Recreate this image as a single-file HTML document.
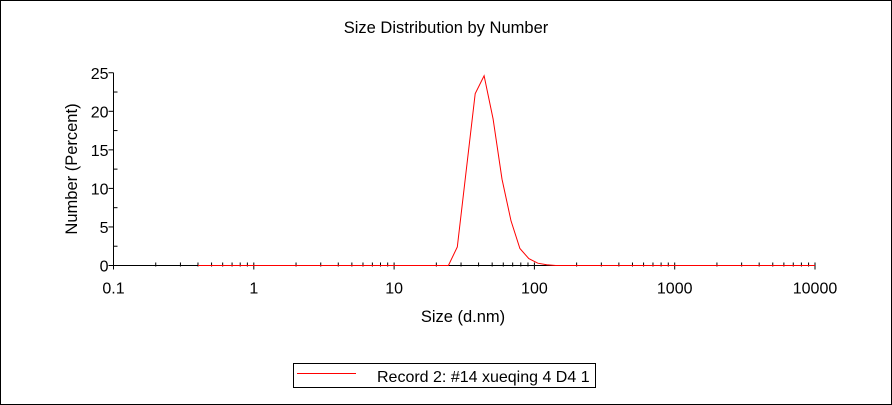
<!DOCTYPE html>
<html><head><meta charset="utf-8"><style>
html,body{margin:0;padding:0;background:#fff}
svg{display:block;font-family:"Liberation Sans",Arial,sans-serif}
</style></head><body>
<svg id="chart" width="892" height="405" viewBox="0 0 892 405">
<rect x="0.5" y="0.5" width="891" height="404" fill="#fff" stroke="#000"/>
<text x="446" y="33" text-anchor="middle" font-size="16.5">Size Distribution by Number</text>
<text x="463" y="322" text-anchor="middle" font-size="16.5">Size (d.nm)</text>
<text transform="translate(77,169) rotate(-90)" text-anchor="middle" font-size="16.5">Number (Percent)</text>
<g id="axes"></g>
<g id="series"></g>
<g>
<rect x="293.5" y="363.5" width="302" height="24" fill="#fff" stroke="#000"/>
<line x1="297" y1="373.5" x2="356" y2="373.5" stroke="#f00"/>
<text x="377" y="382" font-size="16">Record 2: #14 xueqing 4 D4 1</text>
</g>
</svg>
<script>
const sizes=[0.4,24.36,28.21,32.67,37.84,43.82,50.75,58.77,68.06,78.82,91.28,105.7,122.4,141.8,10000];
const values=[0,0,2.4,12.3,22.3,24.6,19.0,11.2,5.8,2.2,0.9,0.3,0.1,0,0];
const xTicks=[0.1,1,10,100,1000,10000];
const xTickLabels=["0.1","1","10","100","1000","10000"];
const yTicks=[0,5,10,15,20,25];
const NS="http://www.w3.org/2000/svg";
const x0=113.5,dec=140.3,y0=265.5,yk=7.71;
function sx(v){return x0+(Math.log10(v)+1)*dec;}
function sy(v){return y0-v*yk;}
function mk(t,a,p){const e=document.createElementNS(NS,t);for(const k in a)e.setAttribute(k,a[k]);p.appendChild(e);return e;}
const ax=document.getElementById('axes');
let e=mk('line',{x1:x0,y1:sy(25),x2:x0,y2:y0,stroke:'#000'},ax);


e=mk('line',{x1:x0,y1:y0,x2:sx(10000),y2:y0,stroke:'#000'},ax);


for(let i=0;i<yTicks.length;i++){const v=yTicks[i];
 mk('line',{x1:x0-5,y1:sy(v),x2:x0,y2:sy(v),stroke:'#000'},ax);
 if(v<25)mk('line',{x1:x0,y1:sy(v+2.5),x2:x0+4,y2:sy(v+2.5),stroke:'#000'},ax);
 const t=mk('text',{x:x0-5,y:sy(v)+6,'text-anchor':'end','font-size':'16'},ax);t.textContent=v;
 
 
}
for(let i=0;i<xTicks.length;i++){const v=xTicks[i];
 mk('line',{x1:sx(v),y1:y0-3,x2:sx(v),y2:y0+4,stroke:'#000'},ax);
 const t=mk('text',{x:sx(v),y:y0+28,'text-anchor':'middle','font-size':'16'},ax);t.textContent=xTickLabels[i];
 
 
 if(i<xTicks.length-1)for(let m=2;m<10;m++){mk('line',{x1:sx(v*m),y1:y0-3,x2:sx(v*m),y2:y0+1,stroke:'#000'},ax);}
}
const s=document.getElementById('series');
const pts=sizes.map((v,i)=>sx(v).toFixed(1)+','+sy(values[i]).toFixed(1)).join(' ');
const pl=mk('polyline',{points:pts,fill:'none',stroke:'#f00','stroke-width':'1'},s);


</script>
</body></html>
